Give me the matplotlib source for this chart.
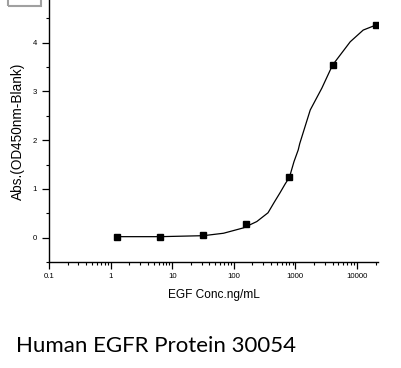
import numpy as np
import matplotlib
matplotlib.use("Agg")
import matplotlib.pyplot as plt
from matplotlib.patches import Rectangle
from matplotlib.ticker import LogLocator, FixedLocator, NullFormatter

# measured points (5-fold dilution series)
conc = [1.28, 6.4, 32, 160, 800, 4000, 20000]
absval = [0.014, 0.012, 0.05, 0.29, 1.24, 3.54, 4.36]

# fitted curve
fit_x = [1.28, 6.4, 32, 68, 143, 236, 359, 450, 562, 680, 800, 948, 1110, 1175,
         1740, 2690, 4000, 7760, 12600, 20000]
fit_y = [0.02, 0.02, 0.04, 0.09, 0.20, 0.33, 0.51, 0.72, 0.92, 1.10, 1.24, 1.56, 1.80, 1.93,
         2.62, 3.07, 3.54, 4.02, 4.26, 4.36]

xticks = [0.1, 1, 10, 100, 1000, 10000]
xtick_labels = ["0.1", "1", "10", "100", "1000", "10000"]
yticks = [0, 1, 2, 3, 4]

plt.rcParams['font.family'] = ['Liberation Sans', 'DejaVu Sans']

W, H = 401, 368
fig = plt.figure(figsize=(W / 100, H / 100), dpi=100)
ax = fig.add_axes([49 / W, (H - 262) / H, (378 - 49) / W, 262 / H])

ax.plot(fit_x, fit_y, color='black', lw=0.9)
ax.plot(conc, absval, ls='none', marker='s', ms=3.8, color='black')

ax.set_xscale('log')
ax.set_xlim(0.1, 21900)
ax.set_ylim(-0.5, 4.877)

ax.set_xticks(xticks)
ax.set_xticklabels(xtick_labels)
ax.xaxis.set_minor_locator(LogLocator(base=10, subs=np.arange(2, 10)))
ax.xaxis.set_minor_formatter(NullFormatter())
ax.set_yticks(yticks)
ax.yaxis.set_minor_locator(FixedLocator([-0.5, 0.5, 1.5, 2.5, 3.5, 4.5]))

ax.tick_params(which='major', direction='out', length=5, width=0.9, labelsize=5.6, pad=3)
ax.tick_params(which='minor', direction='out', length=2.5, width=0.8)
ax.tick_params(axis='y', pad=3.5)

for s in ['top', 'right']:
    ax.spines[s].set_visible(False)
for s in ['left', 'bottom']:
    ax.spines[s].set_linewidth(1.0)

ax.set_xlabel("EGF Conc.ng/mL", fontsize=8.6, labelpad=6.5)
ax.set_ylabel("Abs.(OD450nm-Blank)", fontsize=9.8, labelpad=6)

# partial legend box cut off at the top edge
fig.patches.append(Rectangle((8 / W, (H - 5.5) / H), 33 / W, 0.05, transform=fig.transFigure,
                             fill=False, edgecolor='#a0a0a0', lw=1.5, clip_on=False))

fig.text(16 / W, (H - 352) / H, "Human EGFR Protein 30054", fontsize=16,
         family=['Lato', 'DejaVu Sans'], va='baseline', ha='left')

fig.savefig("out.png", dpi=100)
